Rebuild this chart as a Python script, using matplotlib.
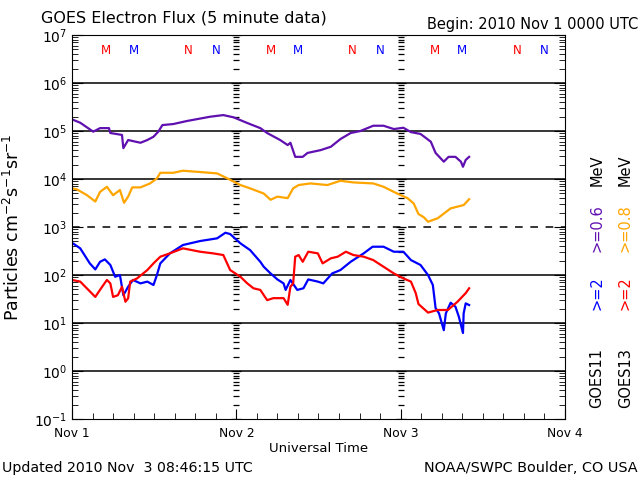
import numpy as np
import matplotlib.pyplot as plt
import matplotlib.transforms as mtransforms

# hours since 2010 Nov 1 00:00 UTC
t_p = [0.0, 1.2, 3.1, 4.1, 5.4, 5.6, 7.3, 7.5, 8.2, 10.0, 11.0, 11.9, 12.6, 13.2, 14.8, 16.8,
       20.2, 22.1, 23.6, 25.6, 27.5, 28.5, 30.4, 31.5, 31.9, 32.6, 33.7, 34.4, 36.3, 37.8, 39.2,
       40.7, 42.1, 44.0, 45.5, 47.0, 48.4, 49.5, 50.9, 52.4, 53.1, 54.3, 55.0, 56.0, 56.8, 57.1,
       57.5, 58.0]
f_p = [1.75e5, 1.49e5, 9.7e4, 1.15e5, 1.15e5, 9.1e4, 8.3e4, 4.4e4, 6.5e4, 5.7e4, 6.5e4, 7.6e4,
       9.7e4, 1.33e5, 1.4e5, 1.62e5, 1.99e5, 2.15e5, 1.93e5, 1.47e5, 1.15e5, 9.1e4, 6.5e4, 5.1e4,
       5.7e4, 2.9e4, 2.9e4, 3.5e4, 4.0e4, 4.7e4, 6.8e4, 9.1e4, 1.0e5, 1.29e5, 1.29e5, 1.1e5,
       1.17e5, 9.5e4, 8.7e4, 6.0e4, 3.5e4, 2.3e4, 2.9e4, 2.9e4, 2.3e4, 1.8e4, 2.5e4, 2.9e4]

t_o = [0.0, 0.7, 2.2, 3.4, 4.1, 5.1, 6.0, 7.0, 7.6, 8.2, 8.8, 10.0, 11.4, 12.4, 12.9, 14.8,
       16.2, 18.7, 21.2, 22.7, 24.6, 26.0, 28.0, 29.0, 30.0, 31.5, 32.3, 33.1, 34.8, 37.3, 39.2,
       41.1, 44.0, 45.5, 47.6, 49.0, 49.9, 50.6, 51.4, 52.0, 53.4, 55.3, 57.2, 58.0]
f_o = [6.4e3, 6.1e3, 4.6e3, 3.4e3, 5.4e3, 6.9e3, 4.6e3, 5.9e3, 3.2e3, 4.3e3, 6.7e3, 6.7e3,
       8.1e3, 1.03e4, 1.35e4, 1.35e4, 1.49e4, 1.4e4, 1.31e4, 1.03e4, 7.5e3, 6.4e3, 5.0e3, 3.7e3,
       4.3e3, 4.0e3, 6.4e3, 7.5e3, 8.1e3, 7.5e3, 9.2e3, 8.5e3, 8.1e3, 6.9e3, 4.9e3, 4.0e3,
       3.1e3, 1.87e3, 1.59e3, 1.29e3, 1.52e3, 2.45e3, 2.87e3, 3.8e3]

t_b = [0.0, 1.2, 2.6, 3.4, 4.1, 4.8, 5.6, 6.3, 7.0, 7.5, 8.2, 8.9, 10.0, 11.0, 11.9, 12.4,
       12.9, 14.3, 16.2, 18.7, 21.2, 22.4, 23.1, 24.6, 26.0, 27.5, 28.0, 29.0, 30.0, 30.9, 31.2,
       31.9, 32.9, 33.8, 34.5, 35.9, 36.7, 38.0, 39.2, 40.7, 42.6, 43.9, 45.5, 47.0, 48.4, 49.5,
       50.9, 52.0, 52.7, 53.1, 53.6, 54.3, 54.6, 55.3, 56.0, 56.5, 57.1, 57.2, 57.5, 58.0]
f_b = [471, 360, 175, 131, 189, 212, 162, 92, 100, 38, 57, 79, 67, 73, 62, 100,
       175, 283, 422, 511, 582, 761, 714, 457, 332, 189, 149, 108, 81, 67, 49,
       79, 49, 53, 81, 73, 67, 108, 127, 189, 283, 389, 389, 306, 306, 205,
       162, 100, 62, 20.5, 15.9, 7.1, 15.9, 26.5, 21.9, 13.5, 6.2, 15.9, 25.7, 23.7]

t_r = [0.0, 1.2, 3.4, 4.4, 5.1, 5.6, 6.0, 6.7, 7.3, 7.8, 8.2, 8.5, 9.5, 11.0, 11.9, 12.9,
       14.3, 16.2, 18.7, 20.6, 22.1, 23.1, 24.6, 25.6, 26.5, 27.5, 28.5, 29.4, 30.9, 31.5, 31.9,
       32.3, 32.6, 33.1, 33.7, 34.5, 35.9, 36.6, 37.8, 38.8, 40.0, 41.1, 42.6, 44.0, 45.5, 47.0,
       48.4, 49.5, 50.2, 50.6, 52.0, 53.4, 54.9, 56.3, 57.5, 58.0]
f_r = [79, 73, 35, 57, 79, 67, 35, 38, 57, 27.8, 32.7, 73, 85, 127, 175, 241,
       283, 360, 306, 283, 261, 127, 92, 67, 53, 49, 30, 33, 33, 24, 57,
       67, 241, 261, 189, 306, 283, 175, 223, 241, 306, 261, 241, 205, 149, 108,
       85, 73, 42, 24.9, 16.5, 18.7, 18.7, 27.8, 42, 53]

# local midnight (M) / noon (N) markers, hours UT
mark_hours = [5, 9, 17, 21]
mark_text = ["M", "M", "N", "N"]
mark_colors = ["red", "blue", "red", "blue"]

day_labels = ["Nov 1", "Nov 2", "Nov 3", "Nov 4"]

purple = "#6010b0"
orange = "#ffa500"

fig = plt.figure(figsize=(6.4, 4.8), dpi=100)
ax = fig.add_axes([0.1125, 0.127, 0.7703, 0.8])

ax.plot(t_p, f_p, color=purple, lw=1.6)
ax.plot(t_o, f_o, color=orange, lw=1.6)
ax.plot(t_b, f_b, color="blue", lw=1.6)
ax.plot(t_r, f_r, color="red", lw=1.6)

ax.set_yscale("log")
ax.set_ylim(1e-1, 1e7)
ax.set_xlim(0, 72)

# decade lines, 10^3 dashed
for e in range(0, 7):
    ls = (0, (5, 5)) if e == 3 else "-"
    ax.axhline(10.0 ** e, color="black", lw=1.1, ls=ls, zorder=1)

# small ticks along the day boundaries
minor_vals = [m * 10.0 ** e for e in range(-1, 7) for m in range(2, 10)]
major_vals = [10.0 ** e for e in range(-1, 8)]
for d in [24, 48]:
    ax.plot([d] * len(minor_vals), minor_vals, ls="none", marker="_", ms=4.5, mew=0.9, color="black", zorder=1)
    ax.plot([d] * len(major_vals), major_vals, ls="none", marker="_", ms=7, mew=0.9, color="black", zorder=1)

ax.set_xticks([0, 24, 48, 72])
ax.set_xticklabels(day_labels)
ax.set_xticks(np.arange(0, 73, 3), minor=True)
ax.tick_params(axis="x", which="both", direction="in", top=False, labelsize=8.8, pad=6)
ax.tick_params(axis="x", which="major", length=7)
ax.tick_params(axis="x", which="minor", length=4)
ax.set_yticks(major_vals)
ax.set_yticklabels([f"$10^{{{e}}}$" for e in range(-1, 8)])
ax.tick_params(axis="y", which="both", direction="in", right=True, labelsize=10)
ax.tick_params(axis="y", which="major", length=8)
ax.tick_params(axis="y", which="minor", length=4)
ax.set_xlabel("Universal Time", fontsize=9.5, labelpad=1)
ax.set_ylabel("Particles cm$^{-2}$s$^{-1}$sr$^{-1}$", fontsize=12.5, labelpad=8)

trans = mtransforms.blended_transform_factory(ax.transData, ax.transAxes)
for day in range(3):
    for h, s, c in zip(mark_hours, mark_text, mark_colors):
        ax.text(day * 24 + h, 0.96, s, color=c, fontsize=8.5, ha="center", va="center", transform=trans)

fig.text(0.064, 0.962, "GOES Electron Flux (5 minute data)", fontsize=11.5, ha="left", va="center")
fig.text(0.997, 0.949, "Begin: 2010 Nov 1 0000 UTC", fontsize=10.5, ha="right", va="center")
fig.text(0.003, 0.025, "Updated 2010 Nov  3 08:46:15 UTC", fontsize=10.2, ha="left", va="center")
fig.text(0.997, 0.025, "NOAA/SWPC Boulder, CO USA", fontsize=10.4, ha="right", va="center")

# right side labels (rotated)
cols = [(0.933, ["GOES11", ">=2", ">=0.6", "MeV"], ["black", "blue", purple, "black"]),
        (0.977, ["GOES13", ">=2", ">=0.8", "MeV"], ["black", "red", orange, "black"])]
ys = [0.212, 0.39, 0.525, 0.645]
for x, words, colors in cols:
    for y, w, c in zip(ys, words, colors):
        fig.text(x, y, w, color=c, fontsize=10.5, rotation=90, ha="center", va="center")

fig.savefig("out.png", dpi=100)
